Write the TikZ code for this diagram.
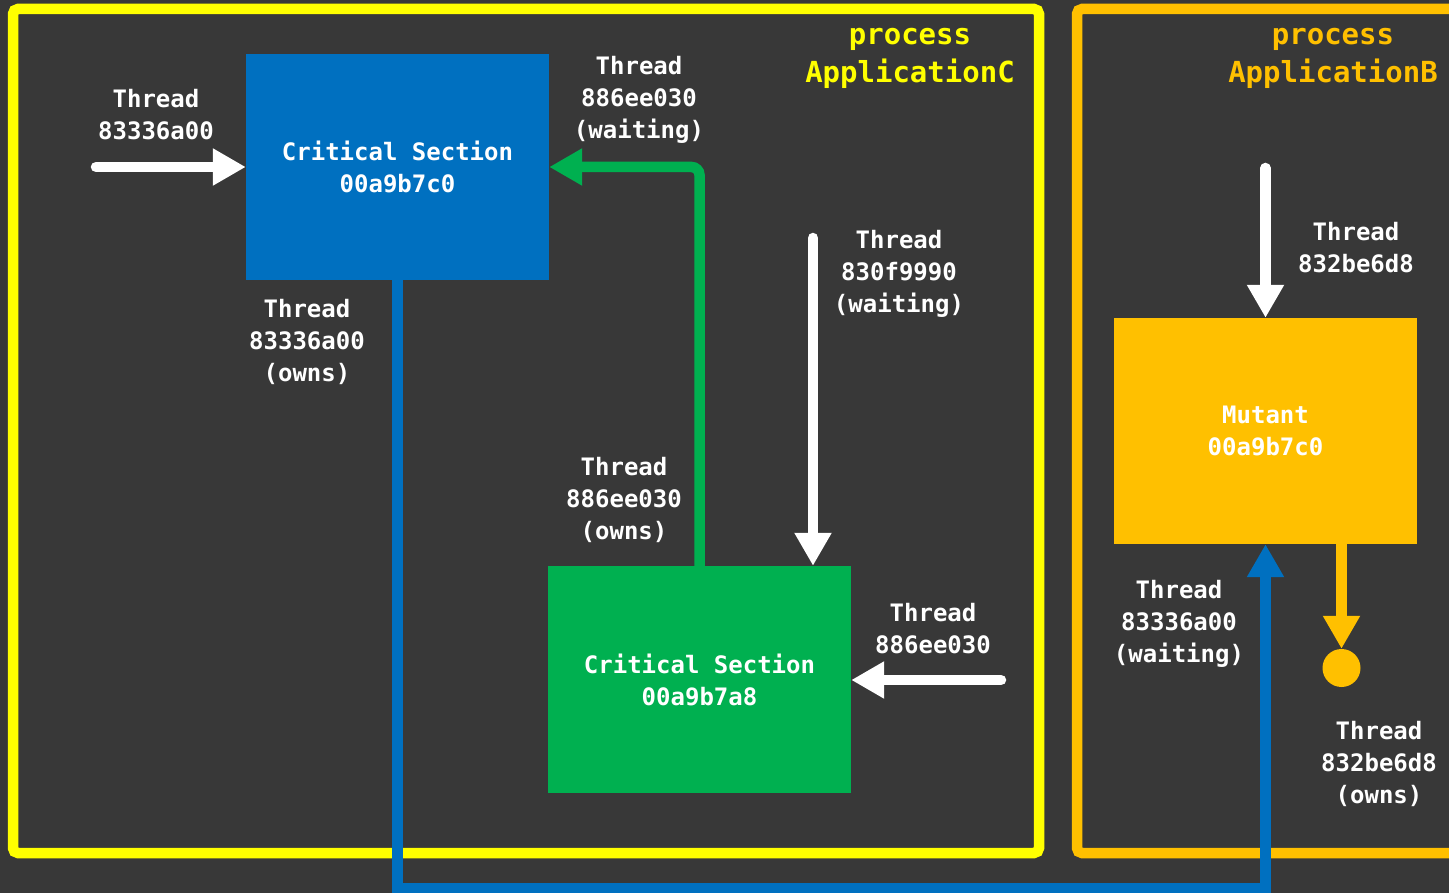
\documentclass[tikz,border=0pt]{standalone}
\usepackage{fontspec}
\setmainfont{DejaVu Sans Mono}
\usetikzlibrary{arrows.meta,calc}

\definecolor{bgdark}{RGB}{56,56,56}
\definecolor{procyellow}{RGB}{255,255,0}
\definecolor{procorange}{RGB}{255,192,0}
\definecolor{csblue}{RGB}{0,112,192}
\definecolor{csgreen}{RGB}{0,176,80}

\tikzset{
  lbl/.style={align=center, inner sep=0pt, text=white,
    font=\bfseries\fontsize{24}{32}\selectfont},
  title/.style={lbl, font=\bfseries\fontsize{29}{38}\selectfont},
  objbox/.style={draw=none, minimum width=303pt, minimum height=226pt,
    inner sep=0pt, align=center, text=white,
    font=\bfseries\fontsize{24}{32}\selectfont},
  frame/.style={line width=10.5pt, rounded corners=5pt},
  wire/.style={line width=10.5pt},
  tipped/.style={-{Triangle[length=33pt,width=35pt]}},
  whitearrow/.style={wire, tipped, draw=white, line cap=round},
}

\begin{document}
\begin{tikzpicture}[x=1pt, y=-1pt]
  % canvas
  \useasboundingbox (0,0) rectangle (1449,893);
  \fill[bgdark] (0,0) rectangle (1449,893);
  \clip (0,0) rectangle (1449,893);

  % process frames
  \draw[frame, procyellow] (13,9) rectangle (1039,853);
  \draw[frame, procorange] (1077,9) rectangle (1475,853);

  % synchronisation objects
  \node[objbox, fill=csblue]     (csA)    at (397.5,167)   {Critical Section\\00a9b7c0};
  \node[objbox, fill=csgreen, minimum height=227pt] (csB) at (699.5,679.5) {Critical Section\\00a9b7a8};
  \node[objbox, fill=procorange] (mutant) at (1265.5,431)  {Mutant\\00a9b7c0};
  \node[circle, fill=procorange, minimum size=38pt, inner sep=0pt] (dot) at (1341.5,668) {};

  % free ends of the incoming thread arrows
  \coordinate (tailA)  at (96,167);
  \coordinate (tailC)  at (813,238);
  \coordinate (tailD)  at (1001,680);
  \coordinate (tailB)  at (1265.5,168);
  \coordinate (bottom) at (0,888);

  % ownership / wait wires
  \draw[wire, csgreen, tipped, rounded corners=8pt] (csB.north) |- (csA.east);
  \draw[wire, csblue, tipped] (csA.south) -- (csA.south |- bottom) -| (mutant.south);
  \draw[wire, procorange, tipped] (mutant.south -| dot) -- (dot.north);

  % threads arriving at the objects
  \draw[whitearrow] (tailA) -- (csA.west);
  \draw[whitearrow] (tailC) -- (tailC |- csB.north);
  \draw[whitearrow] (tailD) -- (tailD -| csB.east);
  \draw[whitearrow] (tailB) -- (mutant.north);

  % process titles
  \node[title, text=procyellow] (procC) at (910,58)  {process\\ApplicationC};
  \node[title, text=procorange] (procB) at (1333,58) {process\\ApplicationB};

  % thread labels
  \node[lbl] (thA)     at (156,115)  {Thread\\83336a00};
  \node[lbl] (thWaitA) at (639,100)  {Thread\\886ee030\\(waiting)};
  \node[lbl] (thOwnA)  at (307,342)  {Thread\\83336a00\\(owns)};
  \node[lbl] (thWaitC) at (899,274)  {Thread\\830f9990\\(waiting)};
  \node[lbl] (thOwnB)  at (624,500)  {Thread\\886ee030\\(owns)};
  \node[lbl] (thD)     at (933,629)  {Thread\\886ee030};
  \node[lbl] (thB)     at (1356,248) {Thread\\832be6d8};
  \node[lbl] (thWaitM) at (1179,624) {Thread\\83336a00\\(waiting)};
  \node[lbl] (thOwnM)  at (1379,764) {Thread\\832be6d8\\(owns)};
\end{tikzpicture}
\end{document}
